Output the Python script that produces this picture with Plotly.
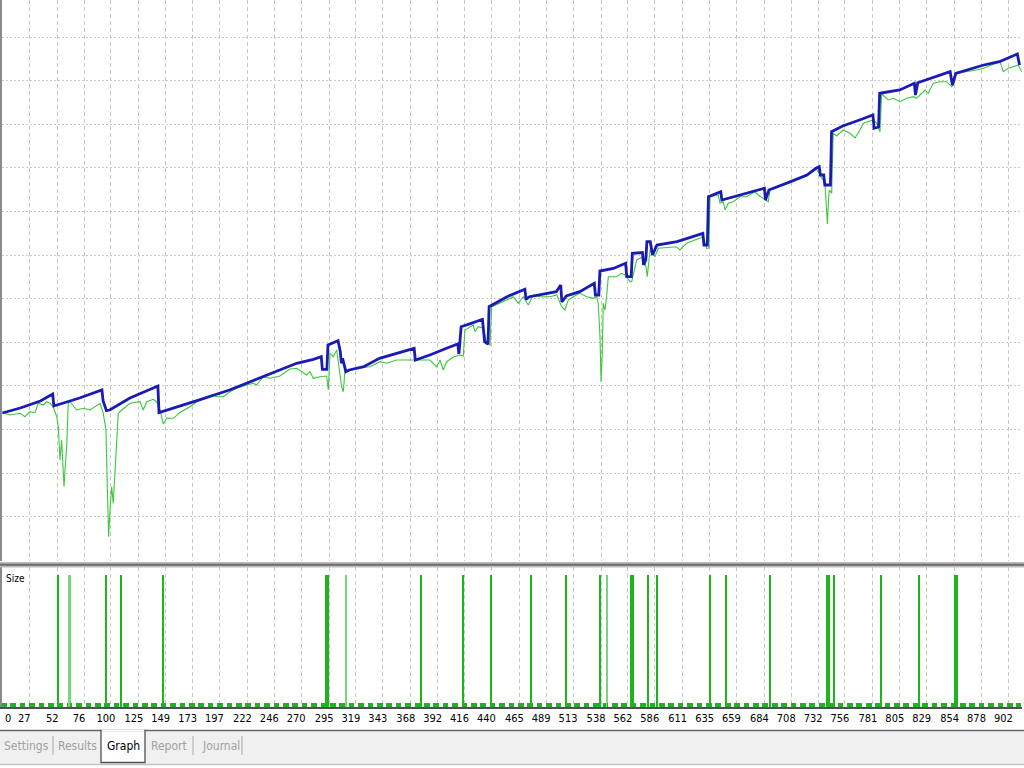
import plotly.graph_objects as go

# ---------------- data ----------------
TRADE_BAL = [3, 19, 37, 48, 49, 72, 92, 93, 96, 99, 117, 142, 143, 162, 177, 206, 221, 236, 251, 266,
             281, 288, 289, 293, 294, 303, 305, 306, 307, 310, 313, 326, 340, 355, 371, 372, 385, 400, 410, 411,
             413, 422, 432, 434, 437, 438, 454, 470, 471, 474, 498, 502, 503, 507, 519, 532, 533, 536, 537, 549,
             560, 561, 565, 566, 575, 576, 578, 579, 582, 584, 588, 606, 629, 630, 633, 634, 645, 646, 662, 677,
             684, 685, 688, 707, 722, 730, 733, 734, 737, 738, 743, 744, 754, 769, 781, 782, 786, 787, 805, 818,
             819, 821, 850, 852, 855, 880, 894, 910, 912]
BALANCE = [10000, 10050, 10120, 10190, 10070, 10150, 10230, 10123, 10023, 10030, 10150, 10270, 10005, 10070, 10123,
           10230, 10297, 10363, 10425, 10497, 10537, 10563, 10437, 10437, 10680, 10723, 10613, 10497, 10547, 10413,
           10430, 10463, 10547, 10597, 10647, 10530, 10580, 10647, 10690, 10590, 10863, 10897, 10937, 10713, 10690,
           11063, 11163, 11237, 11137, 11163, 11213, 11280, 11110, 11170, 11213, 11297, 11180, 11180, 11420, 11445,
           11497, 11363, 11363, 11597, 11605, 11480, 11530, 11713, 11713, 11580, 11680, 11713, 11797, 11680, 11680,
           12163, 12213, 12130, 12180, 12230, 12247, 12130, 12230, 12313, 12380, 12447, 12463, 12380, 12380, 12280,
           12280, 12813, 12870, 12930, 12980, 12847, 12860, 13197, 13230, 13297, 13180, 13303, 13413, 13280, 13397,
           13480, 13513, 13590, 13480]

TRADE_EQ = [3.6, 9.8, 18.8, 23.2, 27.7, 32.2, 35.1, 39.6, 42.6, 45.6,
            48.5, 51.6, 53.0, 54.5, 56.0, 56.9, 58.1, 59.0, 60.5, 61.9,
            63.5, 69.4, 75.3, 81.3, 87.3, 90.3, 93.2, 95.6, 96.8, 98.0,
            99.2, 100.7, 102.1, 103.7, 105.2, 106.6, 109.7, 117.1, 126.0, 128.9,
            132.0, 137.9, 140.9, 143.9, 146.8, 149.9, 155.8, 161.7, 170.7, 176.7,
            182.6, 191.5, 194.5, 200.4, 206.4, 212.4, 221.3, 227.2, 230.3, 236.2,
            242.2, 251.1, 260.0, 266.0, 275.0, 277.9, 280.9, 286.9, 292.8, 294.3,
            295.8, 298.7, 301.8, 303.2, 304.7, 306.2, 307.7, 309.2, 310.7, 319.7,
            331.5, 340.5, 346.5, 355.4, 370.2, 376.2, 385.1, 391.1, 394.1, 397.0,
            400.1, 406.0, 412.0, 414.9, 416.4, 423.8, 425.4, 428.3, 432.8, 435.8,
            438.8, 440.3, 447.7, 453.7, 459.6, 464.1, 468.5, 473.0, 477.5, 483.5,
            492.4, 498.4, 502.8, 505.8, 508.7, 513.2, 519.2, 525.2, 531.1, 534.1,
            535.5, 537.1, 538.0, 539.1, 540.0, 541.5, 543.0, 544.5, 552.0, 556.4,
            559.4, 562.4, 563.9, 565.4, 569.9, 575.8, 578.2, 579.3, 581.8, 586.2,
            589.2, 605.6, 608.5, 614.5, 629.4, 632.4, 634.5, 635.4, 642.8, 644.3,
            647.3, 648.8, 651.7, 656.2, 662.2, 668.1, 675.6, 678.5, 683.0, 687.5,
            689.0, 706.8, 721.8, 730.7, 735.2, 736.6, 738.1, 739.6, 740.3, 741.3,
            742.0, 744.1, 745.5, 748.6, 754.2, 760.5, 765.0, 769.4, 772.4, 781.3,
            784.3, 787.3, 788.8, 794.7, 799.2, 805.1, 811.1, 817.0, 820.1, 823.0,
            827.5, 830.4, 834.9, 840.9, 846.9, 851.3, 852.8, 855.8, 864.8, 873.7,
            879.6, 894.5, 896.0, 897.5, 901.9, 906.4, 910.9, 913.9]
EQUITY = [10000, 9980, 9997, 9963, 10013, 10003, 10097, 10080, 10113, 10097,
          10063, 9963, 9863, 9530, 9730, 9497, 9263, 9430, 9663, 10097,
          10113, 10030, 10047, 10030, 10070, 10097, 9997, 9830, 9263, 8763,
          9030, 9263, 9097, 9430, 9763, 9997, 10030, 10097, 10113, 10030,
          10113, 10137, 10113, 10030, 9890, 9950, 9947, 10005, 10063, 10113,
          10147, 10180, 10163, 10163, 10213, 10247, 10280, 10297, 10280, 10363,
          10347, 10370, 10440, 10447, 10380, 10413, 10347, 10363, 10370, 10230,
          10597, 10563, 10630, 10497, 10380, 10263, 10213, 10430, 10413, 10447,
          10463, 10513, 10497, 10530, 10530, 10530, 10530, 10463, 10530, 10430,
          10513, 10560, 10580, 10570, 10830, 10880, 10813, 10863, 10847, 10697,
          10680, 11063, 11097, 11130, 11163, 11097, 11163, 11080, 11180, 11163,
          11163, 11180, 11063, 11030, 11130, 11163, 11197, 11163, 11147, 11163,
          11097, 10763, 10313, 10597, 11097, 11030, 11163, 11363, 11363, 11397,
          11380, 11330, 11313, 11313, 11530, 11563, 11463, 11363, 11630, 11563,
          11647, 11663, 11630, 11697, 11763, 11647, 11650, 12163, 12180, 12097,
          12113, 12030, 12097, 12113, 12163, 12163, 12213, 12180, 12147, 12113,
          12230, 12300, 12370, 12440, 12347, 12330, 12297, 11980, 11890, 12130,
          12230, 12197, 12797, 12770, 12830, 12797, 12750, 12830, 12897, 12930,
          12897, 12813, 13190, 13130, 13147, 13113, 13147, 13163, 13147, 13180,
          13230, 13197, 13297, 13313, 13313, 13263, 13280, 13397, 13413, 13430,
          13447, 13513, 13463, 13413, 13447, 13463, 13480, 13413]

N_TRADES = 913
BIG_LOT_TRADES = [53, 63, 96, 109, 147, 292, 294, 310, 377, 415, 440, 475, 507, 537, 543,
                  565, 567, 580, 588, 635, 650, 689, 740, 742, 746, 788, 822, 854, 856]
FAINT_TRADES = [63, 310, 543]
BASE_LOT = 0.01
BIG_LOT = 0.30

TICKS = [27, 52, 76, 100, 125, 149, 173, 197, 222, 246, 270, 295, 319, 343, 368, 392, 416, 440, 465,
         489, 513, 538, 562, 586, 611, 635, 659, 684, 708, 732, 756, 781, 805, 829, 854, 878, 902]
TABS = ["Settings", "Results", "Graph", "Report", "Journal"]

# ---------------- derived ----------------
trades = list(range(1, N_TRADES + 1))
sizes = [BIG_LOT if t in BIG_LOT_TRADES else BASE_LOT for t in trades]
widths = [1.8 if t in BIG_LOT_TRADES else 0.6 for t in trades]
bar_colors = ["#7ad47a" if t in FAINT_TRADES else "#1db41d" for t in trades]

W, H = 1024, 768
ML, MR = 2, 2


def px_x(p):
    return (p - ML) / (W - ML - MR)


def px_y(p):
    return 1 - p / H


GRID = "#c8c8c8"
NARROW = "Liberation Sans Narrow, DejaVu Sans Condensed, Liberation Sans, Arial"

fig = go.Figure()
fig.add_trace(go.Scatter(x=TRADE_EQ, y=EQUITY, mode="lines", name="Equity",
                         line=dict(color="#3cc83c", width=1.1), xaxis="x", yaxis="y",
                         hoverinfo="skip"))
fig.add_trace(go.Scatter(x=TRADE_BAL, y=BALANCE, mode="lines", name="Balance",
                         line=dict(color="#1a1ab4", width=2.8), xaxis="x", yaxis="y",
                         hoverinfo="skip"))
fig.add_trace(go.Bar(x=trades, y=sizes, width=widths, name="Size",
                     marker=dict(color=bar_colors, line=dict(width=0)),
                     xaxis="x2", yaxis="y2", hoverinfo="skip"))

x_range = [2.69, 914.2]
common_x = dict(range=x_range, tickmode="array", tickvals=TICKS, ticktext=[str(t) for t in TICKS],
                showgrid=True, gridcolor=GRID, gridwidth=1, griddash="4px,3px", zeroline=False,
                ticks="", fixedrange=True)

fig.update_layout(
    width=W, height=H,
    margin=dict(l=ML, r=MR, t=0, b=0),
    paper_bgcolor="white", plot_bgcolor="white",
    showlegend=False, bargap=0,
    xaxis=dict(domain=[0, 1], anchor="y", showticklabels=False, showline=False, **common_x),
    yaxis=dict(domain=[px_y(561), 1], anchor="x", range=[8520, 14130], tickmode="linear",
               tick0=13760, dtick=436, showticklabels=False, showgrid=True, gridcolor=GRID,
               griddash="2px,2px", gridwidth=1, zeroline=False, showline=True,
               linecolor="#8a8a8a", linewidth=2, ticks="", fixedrange=True),
    xaxis2=dict(domain=[0, 1], anchor="y2", showticklabels=True, showline=True,
                linecolor="#505050", linewidth=2,
                tickfont=dict(family=NARROW, size=11, color="#000000"),
                ticklabelshift=-5, **common_x),
    yaxis2=dict(domain=[px_y(707), px_y(567)], anchor="x2", range=[0, 0.318],
                showticklabels=False, showgrid=False, zeroline=False, showline=True,
                linecolor="#8a8a8a", linewidth=2, ticks="", fixedrange=True),
)

shapes = []
# separator between the two panels
shapes.append(dict(type="rect", xref="paper", yref="paper", x0=px_x(0), x1=px_x(1024),
                   y0=px_y(567.5), y1=px_y(562), fillcolor="#b9b9b9", line=dict(width=0), layer="above"))
shapes.append(dict(type="line", xref="paper", yref="paper", x0=px_x(0), x1=px_x(1024),
                   y0=px_y(564.8), y1=px_y(564.8), line=dict(color="#6e6e6e", width=2), layer="above"))
# tab bar
shapes.append(dict(type="rect", xref="paper", yref="paper", x0=px_x(0), x1=px_x(1024),
                   y0=px_y(764), y1=px_y(731), fillcolor="#f0f0f0", line=dict(width=0)))
shapes.append(dict(type="line", xref="paper", yref="paper", x0=px_x(0), x1=px_x(1024),
                   y0=px_y(730.5), y1=px_y(730.5), line=dict(color="#6a6a6a", width=1.5)))
shapes.append(dict(type="line", xref="paper", yref="paper", x0=px_x(0), x1=px_x(1024),
                   y0=px_y(764.5), y1=px_y(764.5), line=dict(color="#c4c4c4", width=1.5)))
# active tab "Graph"
shapes.append(dict(type="path", xref="paper", yref="paper",
                   path=(f"M {px_x(101)} {px_y(730.5)} L {px_x(101)} {px_y(762.5)} "
                         f"L {px_x(145)} {px_y(762.5)} L {px_x(145)} {px_y(730.5)} Z"),
                   fillcolor="#ffffff", line=dict(color="#505050", width=1.3)))
shapes.append(dict(type="line", xref="paper", yref="paper", x0=px_x(101.7), x1=px_x(144.3),
                   y0=px_y(730.5), y1=px_y(730.5), line=dict(color="#ffffff", width=2)))
# tab separators
for sx in [53, 193, 242]:
    shapes.append(dict(type="line", xref="paper", yref="paper", x0=px_x(sx), x1=px_x(sx),
                       y0=px_y(755), y1=px_y(736), line=dict(color="#a8a8a8", width=1)))
fig.update_layout(shapes=shapes)

annotations = []
annotations.append(dict(text="0", xref="paper", yref="paper", x=px_x(3), y=px_y(718),
                        xanchor="left", yanchor="middle", showarrow=False,
                        font=dict(family=NARROW, size=11, color="#000000")))
annotations.append(dict(text="Size", xref="paper", yref="paper", x=px_x(4), y=px_y(578),
                        xanchor="left", yanchor="middle", showarrow=False,
                        font=dict(family=NARROW, size=10, color="#000000")))
tab_x = [26, 77, 123, 169, 221]
for name, cx in zip(TABS, tab_x):
    annotations.append(dict(text=name, xref="paper", yref="paper", x=px_x(cx), y=px_y(745.5),
                            xanchor="center", yanchor="middle", showarrow=False,
                            font=dict(family=NARROW, size=12,
                                      color="#000000" if name == "Graph" else "#a0a0a0")))
fig.update_layout(annotations=annotations)

fig.write_html("out.html", config={"displayModeBar": False, "staticPlot": True},
               post_script="document.body.style.margin='0';document.body.style.overflow='hidden';")
